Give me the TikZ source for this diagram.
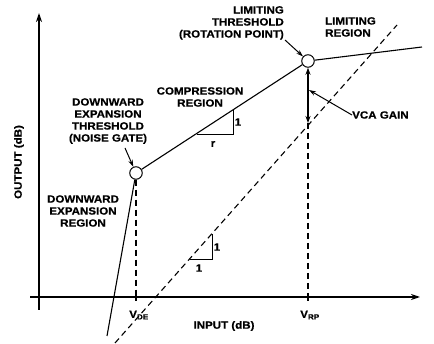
\documentclass[tikz,border=0pt]{standalone}
\usepackage{fontspec}
\setmainfont{Liberation Sans}[FakeStretch=1.1, BoldFeatures={FakeBold=0.6}]
\usetikzlibrary{arrows.meta}
\tikzset{
  lbl/.style={font=\bfseries\fontsize{10.5}{12}\selectfont, inner sep=0pt, align=center},
  axis/.style={line width=1.4pt, -{Stealth[length=9pt,width=6pt]}},
  curve/.style={line width=1.1pt},
  ref/.style={line width=1.1pt, dash pattern=on 6pt off 4pt},
  pt/.style={circle, draw, line width=1pt, minimum size=12.5pt, inner sep=0pt},
  tri/.style={line width=1pt},
  ptr/.style={line width=1pt, -{Stealth[length=7pt,width=4.5pt]}},
}
\begin{document}
\begin{tikzpicture}[x=1pt,y=-1pt]
\useasboundingbox (0,0) rectangle (434,344);

% axes
\coordinate (xo) at (30,297);
\coordinate (xe) at (420,297);
\coordinate (yo) at (39,310);
\coordinate (ye) at (39,13);
\draw[axis] (xo) -- (xe);
\draw[axis] (yo) -- (ye);

% threshold points
\node[pt] (de) at (136,173) {};
\node[pt] (rp) at (308,61) {};

% transfer curve
\coordinate (dend) at (107,336);
\coordinate (lend) at (422,47);
\draw[curve] (de) -- (dend);
\draw[curve] (de) -- (rp);
\draw[curve] (rp) -- (lend);

% unity-gain reference line
\coordinate (ua) at (115,343);
\coordinate (ub) at (397,25);
\draw[ref] (ua) -- (ub);

% projections onto the input axis
\coordinate (dex) at (136,297);
\coordinate (rpg) at (308,123);
\coordinate (rpx) at (308,297);
\draw[ref] (de.south) -- (dex);
\draw[ref] (rpg) -- (rpx);
\draw[line width=1.3pt] (dex) -- ++(0,4);
\draw[line width=1.3pt] (rpx) -- ++(0,4);

% VCA gain span
\draw[line width=1.1pt, {Stealth[length=7pt,width=5pt]}-{Stealth[length=7pt,width=5pt]}] (rp.south) -- (rpg);

% slope triangles
\coordinate (ca) at (197,135);
\coordinate (cb) at (233,135);
\coordinate (cc) at (233,110);
\draw[tri] (ca) -- (cb) -- (cc);
\coordinate (ta) at (190,260);
\coordinate (tb) at (212,260);
\coordinate (tc) at (212,234);
\draw[tri] (ta) -- (tb) -- (tc);

% labels
\node[lbl] (lr) at (213,144) {r};
\node[lbl] (l1) at (238,122) {1};
\node[lbl] (u1a) at (199,268) {1};
\node[lbl] (u1b) at (217,247) {1};

\node[lbl, anchor=north east, align=right] (lt) at (284,6) {LIMITING\\THRESHOLD\\(ROTATION POINT)};
\node[lbl, anchor=north west, align=left] (lreg) at (325,17) {LIMITING\\REGION};
\node[lbl] (creg) at (200,97) {COMPRESSION\\REGION};
\node[lbl] (det) at (108,121) {DOWNWARD\\EXPANSION\\THRESHOLD\\(NOISE GATE)};
\node[lbl] (der) at (83,211) {DOWNWARD\\EXPANSION\\REGION};
\node[lbl, anchor=west] (vca) at (352,115) {VCA GAIN};
\node[lbl] (inp) at (224,326) {INPUT (dB)};
\node[lbl, rotate=90] (outp) at (19,162) {OUTPUT (dB)};
\node[lbl] (vde) at (139,315) {V\textsubscript{DE}};
\node[lbl] (vrp) at (310,315) {V\textsubscript{RP}};

% label pointers
\draw[ptr] (285,40) -- (rp);
\draw[ptr] (125,148) -- (de);
\coordinate (vcat) at (309,90);
\draw[ptr] (vca.west) -- (vcat);
\end{tikzpicture}
\end{document}
